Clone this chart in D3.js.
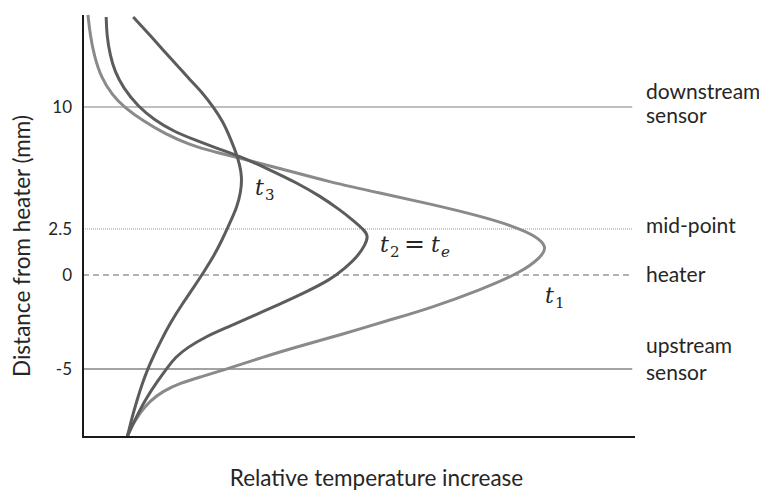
<!DOCTYPE html>
<html>
<head>
<meta charset="utf-8">
<script src="https://cdn.jsdelivr.net/npm/d3@7"></script>
<style>
  body { margin: 0; background: #fff; }
  text { font-family: Lato, "Open Sans", sans-serif; fill: #262626; }
  .math { font-family: "DejaVu Serif", serif; }
</style>
</head>
<body>
<div id="chart"></div>
<script>
// temperature profiles along the tube: [relative temperature, distance from heater (mm)], top to bottom
const t1 = [[0.9,15.6],[1.3,14.38],[2.0,13.16],[3.3,11.77],[5.3,10.73],[7.4,10],[10.9,9.14],[14.9,8.34],[19.4,7.66],[23.9,7.23],[28.4,6.86],[35.7,6.22],[44.7,5.39],[53.8,4.71],[62.9,4.04],[71.9,3.3],[77.9,2.68],[82.1,2.12],[84.1,1.52],[83.0,0.98],[79.5,0.16],[71.9,-0.8],[62.9,-1.76],[55.6,-2.39],[47.1,-3.14],[39.3,-3.78],[32.1,-4.41],[26.6,-4.95],[21.2,-5.44],[17.6,-5.76],[14.5,-6.2],[12.1,-6.74],[10.3,-7.39],[9.1,-7.99],[8.2,-8.48],[8.0,-8.7]];
const t2 = [[4.2,15.48],[4.3,14.38],[4.9,13.16],[5.8,12.13],[7.2,11.22],[10.0,10],[13.0,9.2],[16.3,8.52],[20.3,7.97],[23.6,7.54],[28.4,6.99],[33.9,6.13],[38.8,5.33],[42.9,4.53],[46.6,3.67],[49.3,2.93],[50.9,2.45],[51.7,2.12],[51.1,1.63],[49.8,1.03],[47.5,0.38],[44.7,-0.27],[40.2,-0.93],[35.7,-1.54],[30.8,-2.18],[26.1,-2.79],[22.1,-3.3],[18.8,-3.88],[16.8,-4.36],[15.2,-4.95],[13.4,-5.71],[11.6,-6.52],[10.1,-7.34],[8.9,-8.1],[8.0,-8.7]];
const t3 = [[9.1,15.48],[11.8,14.5],[14.5,13.47],[17.0,12.56],[19.4,11.64],[21.7,10.85],[23.6,10],[25.4,9.08],[26.6,8.15],[27.7,7.23],[28.4,6.43],[28.8,5.7],[28.6,4.77],[27.9,3.85],[26.6,2.87],[25.2,1.9],[23.6,0.98],[22.1,0.27],[20.1,-0.64],[18.1,-1.49],[15.9,-2.5],[13.9,-3.62],[12.7,-4.36],[11.8,-4.95],[10.7,-5.82],[9.8,-6.69],[8.9,-7.61],[8.2,-8.48],[8.0,-8.7]];

const yTicks = [10, 2.5, 0, -5];
const refLines = [
  { y: 10, labels: ['downstream', 'sensor'], style: 'solidLight' },
  { y: 2.5, labels: ['mid-point'], style: 'dotted' },
  { y: 0, labels: ['heater'], style: 'dashed' },
  { y: -5, labels: ['upstream', 'sensor'], style: 'solidDark' }
];

const width = 759, height = 490;
const plotLeft = 83, plotRight = 635, plotTop = 15, plotBottom = 437;

const svg = d3.select('#chart').append('svg')
  .attr('width', width).attr('height', height);

const x = d3.scaleLinear().domain([0, 100]).range([plotLeft, plotRight]);
// the sketch is not drawn to scale, so the y axis is piecewise linear
const y = d3.scaleLinear()
  .domain([-8.7, -5, 0, 2.5, 10, 15.6])
  .range([plotBottom, 369, 275, 229, 107, plotTop]);

// reference lines + labels on the right
const lineStyle = {
  solidLight: { stroke: '#ababab', w: 1.6, dash: null, lab: [-8, 16] },
  dotted: { stroke: '#9a9a9a', w: 1, dash: '1,1', lab: [4] },
  dashed: { stroke: '#9a9a9a', w: 1.3, dash: '6,4', lab: [7] },
  solidDark: { stroke: '#858585', w: 1.6, dash: null, lab: [-16, 11] }
};
refLines.forEach(r => {
  let s = lineStyle[r.style];
  let yy = y(r.y);
  svg.append('line')
    .attr('x1', x(0)).attr('x2', x(99.5))
    .attr('y1', yy).attr('y2', yy)
    .attr('stroke', s.stroke)
    .attr('stroke-width', s.w)
    .attr('stroke-dasharray', s.dash);
  r.labels.forEach((lab, i) => {
    svg.append('text')
      .attr('x', 646).attr('y', yy + s.lab[i])
      .style('font-size', '21px')
      .text(lab);
  });
});

// curves
const line = d3.line()
  .x(d => x(d[0]))
  .y(d => y(d[1]))
  .curve(d3.curveBasis);

const series = [
  { name: 't1', data: t1, color: '#8a8a8a' },
  { name: 't2', data: t2, color: '#5c5c5c' },
  { name: 't3', data: t3, color: '#5c5c5c' }
];
svg.selectAll('.profile')
  .data(series)
  .join('path')
  .attr('class', 'profile')
  .attr('d', d => line(d.data))
  .attr('fill', 'none')
  .attr('stroke', d => d.color)
  .attr('stroke-width', 3);

// axes (plain lines, no ticks)
svg.append('line')
  .attr('x1', plotLeft).attr('x2', plotLeft).attr('y1', plotTop).attr('y2', plotBottom + 1)
  .attr('stroke', '#1a1a1a').attr('stroke-width', 2);
svg.append('line')
  .attr('x1', plotLeft - 1).attr('x2', plotRight).attr('y1', plotBottom).attr('y2', plotBottom)
  .attr('stroke', '#1a1a1a').attr('stroke-width', 2);

const yAxis = svg.append('g')
  .attr('transform', `translate(${plotLeft},0)`)
  .call(d3.axisLeft(y).tickValues(yTicks).tickSize(0).tickPadding(11).tickFormat(d => String(d)));
yAxis.select('.domain').remove();
yAxis.selectAll('text')
  .style('font-family', 'Lato, sans-serif')
  .style('font-size', '17px')
  .attr('fill', '#262626');

// axis titles
svg.append('text')
  .attr('x', (229 + 524) / 2).attr('y', 486)
  .attr('text-anchor', 'middle')
  .style('font-size', '22.5px')
  .text('Relative temperature increase');

svg.append('text')
  .attr('transform', `translate(30,${(117 + 375) / 2}) rotate(-90)`)
  .attr('text-anchor', 'middle')
  .style('font-size', '22.5px')
  .text('Distance from heater (mm)');

// curve labels, math style
function mathLabel(px, py, parts) {
  let g = svg.append('text').attr('class', 'math').attr('y', py);
  parts.forEach(p => {
    g.append('tspan')
      .attr('x', px + p.dx)
      .attr('y', py + (p.sub ? 5 : 0))
      .style('font-size', p.sub ? '15px' : (p.big || '22px'))
      .style('font-style', p.italic ? 'italic' : 'normal')
      .text(p.txt);
  });
}
mathLabel(255, 195, [{ txt: 't', dx: 0, italic: true }, { txt: '3', dx: 10, sub: true }]);
mathLabel(380, 252, [
  { txt: 't', dx: 0, italic: true }, { txt: '2', dx: 10, sub: true },
  { txt: '=', dx: 24, big: '25px' },
  { txt: 't', dx: 51, italic: true }, { txt: 'e', dx: 61, sub: true, italic: true }
]);
mathLabel(545, 303, [{ txt: 't', dx: 0, italic: true }, { txt: '1', dx: 10, sub: true }]);
</script>
</body>
</html>
